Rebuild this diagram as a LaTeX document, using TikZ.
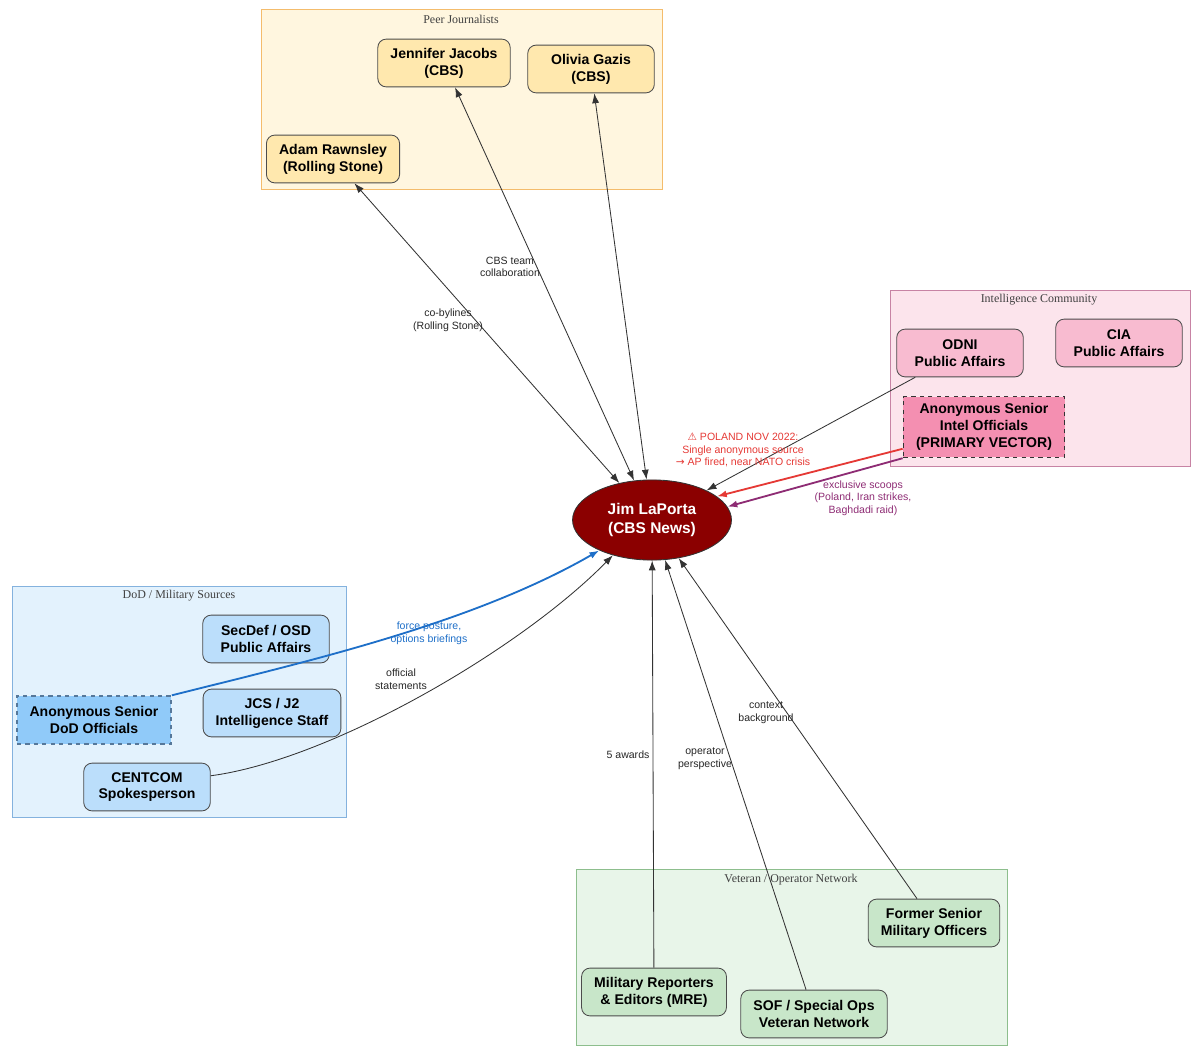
\documentclass[tikz,border=0pt]{standalone}
\usepackage{fontspec}
\setmainfont{Liberation Sans}
\newfontfamily\clusterfont{Liberation Serif}
\newfontfamily\symfont{DejaVu Sans}
\usepackage{tikz}
\usetikzlibrary{arrows.meta}
\usetikzlibrary{shapes.geometric}
\definecolor{peerfill}{HTML}{FFF6DF}
\definecolor{peerline}{HTML}{F4BC6C}
\definecolor{peernode}{HTML}{FFE8AE}
\definecolor{intelfill}{HTML}{FCE4EC}
\definecolor{intelline}{HTML}{C783A4}
\definecolor{intelnode}{HTML}{F8BBD0}
\definecolor{intelanonfill}{HTML}{F48FB1}
\definecolor{dodfill}{HTML}{E3F2FD}
\definecolor{dodline}{HTML}{84B2DE}
\definecolor{dodnode}{HTML}{BBDEFB}
\definecolor{dodanonfill}{HTML}{90CAF9}
\definecolor{dodanonline}{HTML}{56789A}
\definecolor{vetfill}{HTML}{E8F5E9}
\definecolor{vetline}{HTML}{8DBE8D}
\definecolor{vetnode}{HTML}{C8E6C9}
\definecolor{hubred}{HTML}{8B0000}
\definecolor{alertred}{HTML}{E53935}
\definecolor{scooppurple}{HTML}{8E2C74}
\definecolor{briefblue}{HTML}{1E6FC8}
\colorlet{nodeline}{black!70}

\begin{document}
\begin{tikzpicture}[x=0.025cm,y=-0.025cm,
  src/.style={draw=nodeline,line width=0.6pt,rounded corners=6pt,align=center,
    font=\fontsize{10}{12}\selectfont\bfseries,inner xsep=9pt,inner ysep=5pt,
    minimum width=90pt,minimum height=34pt},
  anon/.style={src,dashed,line width=1.1pt,rounded corners=0pt},
  hub/.style={ellipse,fill=hubred,draw=black!80,line width=0.6pt,text=white,align=center,
    font=\fontsize{11}{13}\selectfont\bfseries,inner sep=2pt,minimum width=113pt,minimum height=57pt},
  group/.style={line width=0.6pt},
  clabel/.style={font=\clusterfont\fontsize{8.5}{10}\selectfont,text=black!75,inner sep=0pt},
  elabel/.style={font=\fontsize{7.5}{9}\selectfont,align=center,inner sep=0pt,text=black!85},
  link/.style={line width=0.6pt,draw=black!80,-{Latex[length=7pt,width=5pt]}},
  mutual/.style={link,{Latex[length=7pt,width=5pt]}-{Latex[length=7pt,width=5pt]}}]
\useasboundingbox (0,0) rectangle (1200,1056);

% clusters
\draw[group,draw=peerline,fill=peerfill] (261,9) rectangle (662,189);
\draw[group,draw=intelline,fill=intelfill] (890,290) rectangle (1190,466);
\draw[group,draw=dodline,fill=dodfill] (12,586) rectangle (346,817);
\draw[group,draw=vetline,fill=vetfill] (576,869) rectangle (1007,1045);
\node[clabel] (peertitle) at (461,19) {Peer Journalists};
\node[clabel] (inteltitle) at (1039,300) {Intelligence Community};
\node[clabel] (dodtitle) at (179,596) {DoD / Military Sources};
\node[clabel] (vettitle) at (791,880) {Veteran / Operator Network};

% nodes
\node[src,fill=peernode] (jacobs) at (444,63) {Jennifer Jacobs\\(CBS)};
\node[src,fill=peernode] (gazis) at (591,69) {Olivia Gazis\\(CBS)};
\node[src,fill=peernode] (rawnsley) at (333,159) {Adam Rawnsley\\(Rolling Stone)};
\node[src,fill=intelnode] (odni) at (960,353) {ODNI\\Public Affairs};
\node[src,fill=intelnode] (cia) at (1119,343) {CIA\\Public Affairs};
\node[anon,fill=intelanonfill,draw=black!80] (intelanon) at (984,427) {Anonymous Senior\\Intel Officials\\(PRIMARY VECTOR)};
\node[hub] (laporta) at (652,520) {Jim LaPorta\\(CBS News)};
\node[src,fill=dodnode] (secdef) at (266,639) {SecDef / OSD\\Public Affairs};
\node[src,fill=dodnode] (jcs) at (272,713) {JCS / J2\\Intelligence Staff};
\node[anon,fill=dodanonfill,draw=dodanonline] (dodanon) at (94,720) {Anonymous Senior\\DoD Officials};
\node[src,fill=dodnode] (centcom) at (147,787) {CENTCOM\\Spokesperson};
\node[src,fill=vetnode] (formers) at (934,923) {Former Senior\\Military Officers};
\node[src,fill=vetnode] (mre) at (654,992) {Military Reporters\\\& Editors (MRE)};
\node[src,fill=vetnode] (sof) at (814,1014) {SOF / Special Ops\\Veteran Network};

% connectors
\draw[mutual] (rawnsley) -- (laporta);
\draw[mutual] (jacobs) -- (laporta);
\draw[mutual] (gazis) -- (laporta);
\draw[link] (odni) -- (laporta);
\draw[link,draw=alertred,line width=1.3pt] (intelanon.195) -- (laporta.20);
\draw[link,draw=scooppurple,line width=1.3pt] (intelanon.south west) -- (laporta.10);
\draw[link,draw=briefblue,line width=1.3pt] (dodanon.north east) .. controls (300,663) and (470,625) .. (laporta.210);
\draw[link] (centcom.10) .. controls (330,760) and (520,650) .. (laporta.222);
\draw[link] (mre) -- (laporta);
\draw[link] (sof) -- (laporta);
\draw[link] (formers) -- (laporta);

% labels
\node[elabel] (lbcobyline) at (448,320) {co-bylines\\(Rolling Stone)};
\node[elabel] (lbteam) at (510,267) {CBS team\\collaboration};
\node[elabel,text=alertred] (lbpoland) at (743,450) {{\symfont ⚠} POLAND NOV 2022:\\Single anonymous source\\{\symfont →} AP fired, near NATO crisis};
\node[elabel,text=scooppurple] (lbscoops) at (863,498) {exclusive scoops\\(Poland, Iran strikes,\\Baghdadi raid)};
\node[elabel,text=briefblue] (lbposture) at (429,633) {force posture,\\options briefings};
\node[elabel] (lbofficial) at (401,679) {official\\statements};
\node[elabel] (lbawards) at (628,755) {5 awards};
\node[elabel] (lboperator) at (705,759) {operator\\perspective};
\node[elabel] (lbcontext) at (766,713) {context\\background};
\end{tikzpicture}
\end{document}
